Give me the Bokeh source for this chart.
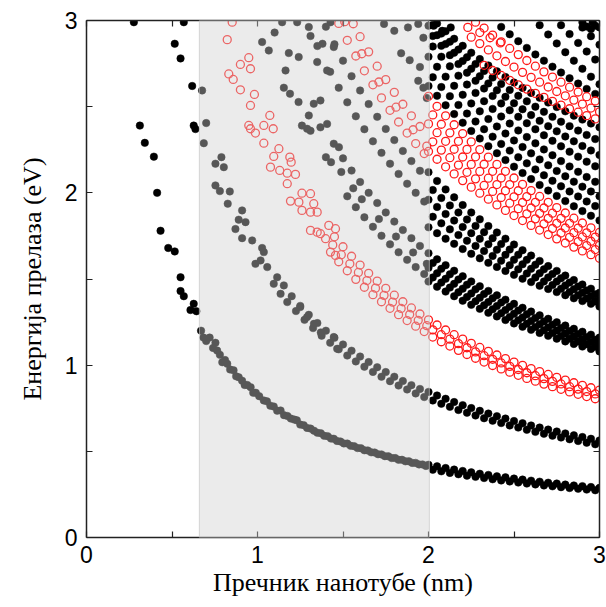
from bokeh.plotting import figure
from bokeh.models import Range1d, LinearAxis, FixedTicker, BoxAnnotation, ColumnDataSource
from bokeh.embed import file_html
from bokeh.resources import INLINE

# ---------------- data (diameter in nm, transition energy in eV) ----------------
x_ticks = [0, 1, 2, 3]
y_ticks = [0, 1, 2, 3]
half_ticks = [0.5, 1.5, 2.5]
x_title = "Пречник нанотубе (nm)"
y_title = "Енергија прелаза (eV)"
shade_left = 0.66
shade_right = 2.005

grid_a = [2.00, 2.05, 2.10, 2.15, 2.20, 2.25, 2.30, 2.35, 2.40, 2.45, 2.50,
          2.55, 2.60, 2.65, 2.70, 2.75, 2.80, 2.85, 2.90, 2.95, 3.00]
grid_b = [2.025, 2.075, 2.125, 2.175, 2.225, 2.275, 2.325, 2.375, 2.425, 2.475,
          2.525, 2.575, 2.625, 2.675, 2.725, 2.775, 2.825, 2.875, 2.925, 2.975]

# ---- S11 (semiconducting)
s11_left_x = [0.277, 0.312, 0.341, 0.394, 0.413, 0.433, 0.478, 0.516, 0.55, 0.55, 0.569, 0.608, 0.627, 0.643]
s11_left_y = [2.99, 2.39, 2.29, 2.21, 2.00, 1.78, 1.68, 1.66, 1.51, 1.43, 1.40, 1.32, 1.356, 1.313]
s11_a1_x = [0.670, 0.684, 0.700, 0.720, 0.740, 0.754, 0.764, 0.780, 0.794, 0.810, 0.823, 0.840, 0.860,
            0.875, 0.890, 0.910, 0.925, 0.940, 0.960, 0.975, 0.990]
s11_a1_y = [1.20, 1.16, 1.14, 1.16, 1.10, 1.13, 1.085, 1.06, 1.017, 1.03, 1.008, 0.975, 0.97,
            0.935, 0.93, 0.91, 0.885, 0.885, 0.872, 0.84, 0.84]
s11_a2_x = [1.010, 1.037, 1.055, 1.075, 1.095, 1.115, 1.135, 1.155, 1.175, 1.195, 1.215, 1.230,
            1.250, 1.270, 1.290, 1.310, 1.330, 1.350, 1.370, 1.390, 1.410, 1.430, 1.446]
s11_a2_y = [0.82, 0.795, 0.79, 0.765, 0.76, 0.736, 0.737, 0.71, 0.705, 0.69, 0.684, 0.68,
            0.655, 0.652, 0.636, 0.632, 0.62, 0.608, 0.605, 0.59, 0.588, 0.574, 0.573]
s11_a3_x = [1.465, 1.485, 1.505, 1.525, 1.545, 1.565, 1.585, 1.605, 1.625, 1.645, 1.665, 1.685, 1.705,
            1.725, 1.745, 1.765, 1.785, 1.805, 1.825, 1.845, 1.865, 1.885, 1.905, 1.925, 1.945, 1.965, 1.985]
s11_a3_y = [0.560, 0.557, 0.546, 0.545, 0.532, 0.530, 0.519, 0.518, 0.506, 0.505, 0.494, 0.493, 0.483,
            0.482, 0.472, 0.471, 0.461, 0.461, 0.451, 0.451, 0.442, 0.442, 0.433, 0.433, 0.424, 0.424, 0.415]
s11_ya = [0.422, 0.413, 0.403, 0.394, 0.386, 0.378, 0.370, 0.363, 0.355, 0.349, 0.342,
          0.336, 0.330, 0.324, 0.318, 0.313, 0.307, 0.302, 0.298, 0.293, 0.288]
s11_yb = [0.393, 0.384, 0.375, 0.367, 0.359, 0.352, 0.345, 0.338, 0.331, 0.325,
          0.319, 0.313, 0.308, 0.302, 0.297, 0.292, 0.287, 0.283, 0.278, 0.274]

# ---- S22 (semiconducting)
s22_left_x = [0.516, 0.569, 0.55, 0.618, 0.627, 0.637]
s22_left_y = [2.865, 2.99, 2.78, 2.62, 2.39, 2.37]
s22_a_x = [0.676, 0.686, 0.70, 0.754, 0.789, 0.803, 0.754, 0.78, 0.838, 0.826, 0.91, 0.89, 0.93, 0.871,
           0.91, 0.969, 1.027, 1.037, 0.988, 1.018, 1.057, 1.115, 1.095, 1.154, 1.135, 1.174, 1.25,
           1.29, 1.33, 1.37, 1.446, 1.466]
s22_a_y = [2.594, 2.288, 2.405, 2.169, 2.207, 2.149, 2.043, 2.01, 2.008, 1.937, 1.898, 1.844, 1.83, 1.79,
           1.737, 1.724, 1.68, 1.656, 1.588, 1.608, 1.569, 1.51, 1.472, 1.463, 1.414, 1.366, 1.337,
           1.279, 1.24, 1.19, 1.163, 1.095]
s22_u_x = [1.20, 1.25, 1.30, 1.35, 1.40, 1.45, 1.50, 1.55, 1.60, 1.65, 1.70, 1.75, 1.80, 1.85, 1.90, 1.95]
s22_u_y = [1.400, 1.344, 1.292, 1.244, 1.200, 1.159, 1.120, 1.084, 1.050, 1.018, 0.988, 0.960,
           0.933, 0.908, 0.884, 0.862]
s22_d_x = [1.225, 1.275, 1.325, 1.375, 1.425, 1.475, 1.525, 1.575, 1.625, 1.675, 1.725, 1.775,
           1.825, 1.875, 1.925, 1.975]
s22_d_y = [1.314, 1.263, 1.215, 1.171, 1.130, 1.092, 1.056, 1.022, 0.991, 0.961, 0.933, 0.907,
           0.882, 0.859, 0.836, 0.815]
s22_ya = [0.845, 0.824, 0.805, 0.786, 0.768, 0.751, 0.735, 0.719, 0.704, 0.690, 0.676,
          0.663, 0.650, 0.638, 0.626, 0.615, 0.604, 0.593, 0.583, 0.573, 0.563]
s22_yb = [0.795, 0.776, 0.758, 0.740, 0.724, 0.708, 0.692, 0.678, 0.664, 0.650,
          0.638, 0.625, 0.613, 0.602, 0.591, 0.580, 0.570, 0.560, 0.550, 0.541]

# ---- M11 (metallic)
m11_a_x = [0.852, 0.823, 0.949, 0.90, 0.959, 0.832, 0.858, 0.90, 0.982, 0.959, 1.072, 0.949, 0.959, 1.037,
           1.092, 0.988, 1.037, 1.125, 1.095, 1.189, 1.197, 1.076, 1.13, 1.174, 1.222, 1.174, 1.26, 1.31,
           1.193, 1.242, 1.329, 1.26, 1.31, 1.349, 1.31, 1.349, 1.368, 1.398, 1.417, 1.456, 1.427, 1.456]
m11_a_y = [2.99, 2.889, 2.784, 2.745, 2.72, 2.69, 2.658, 2.598, 2.571, 2.507, 2.449, 2.391, 2.372, 2.391,
           2.372, 2.347, 2.288, 2.256, 2.211, 2.207, 2.178, 2.149, 2.13, 2.114, 2.107, 2.053, 1.998, 1.995,
           1.952, 1.946, 1.937, 1.898, 1.888, 1.888, 1.782, 1.772, 1.763, 1.734, 1.811, 1.792, 1.656, 1.637]
m11_u_x = [1.45, 1.50, 1.55, 1.60, 1.65, 1.70, 1.75, 1.80, 1.85, 1.90, 1.95]
m11_u_y = [1.745, 1.687, 1.632, 1.581, 1.533, 1.488, 1.446, 1.406, 1.368, 1.332, 1.297]
m11_d_x = [1.475, 1.525, 1.575, 1.625, 1.675, 1.725, 1.775, 1.825, 1.875, 1.925, 1.975]
m11_d_y = [1.600, 1.548, 1.498, 1.452, 1.409, 1.368, 1.330, 1.293, 1.259, 1.226, 1.195]
m11_m_x = [1.44, 1.49, 1.54, 1.59, 1.64, 1.69, 1.74, 1.79, 1.84, 1.89, 1.94, 1.99]
m11_m_y = [1.698, 1.641, 1.588, 1.538, 1.491, 1.447, 1.405, 1.366, 1.329, 1.294, 1.260, 1.229]
m11_ya = [1.263, 1.233, 1.204, 1.177, 1.151, 1.127, 1.103, 1.080, 1.059, 1.038, 1.018,
          0.999, 0.980, 0.963, 0.946, 0.929, 0.913, 0.898, 0.883, 0.869, 0.855]
m11_yb = [1.163, 1.136, 1.111, 1.086, 1.062, 1.040, 1.018, 0.998, 0.978, 0.959,
          0.941, 0.923, 0.907, 0.890, 0.875, 0.860, 0.845, 0.831, 0.818, 0.805]
m11_yc = [1.205, 1.177, 1.151, 1.125, 1.101, 1.077, 1.055, 1.034, 1.013, 0.993,
          0.975, 0.956, 0.939, 0.922, 0.906, 0.891, 0.875, 0.861, 0.847, 0.833]

# ---- S33 (semiconducting)
s33_a_x = [1.027, 1.066, 1.10, 1.144, 1.183, 1.241, 1.164, 1.154, 1.19, 1.24, 1.329, 1.368, 1.26, 1.31,
           1.368, 1.407, 1.40, 1.43, 1.446, 1.476, 1.30, 1.29]
s33_a_y = [2.875, 2.826, 2.93, 2.99, 2.811, 2.788, 2.71, 2.61, 2.575, 2.527, 2.517, 2.536, 2.39, 2.36,
           2.38, 2.40, 2.207, 2.178, 2.285, 2.265, 2.449, 2.372]
s33_u_x = [1.50, 1.55, 1.60, 1.65, 1.70, 1.75, 1.80, 1.85, 1.90, 1.95]
s33_u_y = [2.200, 2.129, 2.063, 2.000, 1.941, 1.886, 1.833, 1.784, 1.737, 1.692]
s33_d_x = [1.525, 1.575, 1.625, 1.675, 1.725, 1.775, 1.825, 1.875, 1.925, 1.975]
s33_d_y = [1.980, 1.917, 1.858, 1.803, 1.751, 1.701, 1.655, 1.611, 1.569, 1.529]
s33_m_x = [1.49, 1.56, 1.61, 1.71, 1.81, 1.91, 1.99]
s33_m_y = [2.121, 2.026, 1.963, 1.848, 1.746, 1.654, 1.588]
s33_r1 = [1.650, 1.614, 1.580, 1.548, 1.516, 1.486, 1.458, 1.431, 1.405, 1.380, 1.356,
          1.333, 1.311, 1.289, 1.269, 1.249, 1.230, 1.211, 1.194, 1.177, 1.160]
s33_r2 = [1.593, 1.559, 1.527, 1.497, 1.467, 1.440, 1.413, 1.388, 1.363, 1.339,
          1.317, 1.295, 1.274, 1.254, 1.235, 1.216, 1.198, 1.181, 1.164, 1.148]
s33_r3 = [1.565, 1.533, 1.501, 1.472, 1.444, 1.416, 1.391, 1.366, 1.343, 1.320, 1.298,
          1.277, 1.257, 1.237, 1.219, 1.201, 1.184, 1.167, 1.151, 1.135, 1.120]
s33_r4 = [1.509, 1.479, 1.450, 1.423, 1.396, 1.371, 1.347, 1.324, 1.301, 1.280,
          1.260, 1.240, 1.222, 1.203, 1.186, 1.169, 1.153, 1.137, 1.122, 1.107]
s33_r5 = [1.485, 1.455, 1.427, 1.400, 1.374, 1.350, 1.327, 1.304, 1.283, 1.262, 1.242,
          1.223, 1.205, 1.187, 1.170, 1.154, 1.138, 1.123, 1.108, 1.094, 1.080]

# ---- S44 (semiconducting)
s44_a_x = [1.232, 1.31, 1.38, 1.446, 1.349, 1.407, 1.427]
s44_a_y = [2.99, 2.91, 2.865, 2.846, 2.759, 2.71, 2.99]
s44_u_x = [1.40, 1.45, 1.50, 1.55, 1.60, 1.65, 1.70, 1.75, 1.80, 1.85, 1.90, 1.95]
s44_u_y = [2.964, 2.862, 2.767, 2.677, 2.594, 2.515, 2.441, 2.371, 2.306, 2.243, 2.184, 2.128]
s44_d_x = [1.30, 1.35, 1.425, 1.475, 1.525, 1.575, 1.625, 1.675, 1.725, 1.775, 1.825, 1.875, 1.925, 1.975]
s44_d_y = [2.962, 2.852, 2.702, 2.610, 2.525, 2.444, 2.369, 2.299, 2.232, 2.169, 2.110, 2.053, 2.0, 1.949]
s44_r1 = [2.120, 2.069, 2.020, 1.974, 1.929, 1.886, 1.846, 1.807, 1.770, 1.734, 1.700,
          1.667, 1.636, 1.605, 1.575, 1.547, 1.520, 1.494, 1.468, 1.444, 1.420]
s44_r2 = [2.016, 1.970, 1.927, 1.886, 1.845, 1.808, 1.772, 1.737, 1.703, 1.671,
          1.641, 1.611, 1.583, 1.556, 1.529, 1.504, 1.479, 1.456, 1.433, 1.411]
s44_r3 = [1.960, 1.918, 1.877, 1.839, 1.802, 1.766, 1.733, 1.701, 1.670, 1.640, 1.612,
          1.585, 1.559, 1.533, 1.509, 1.486, 1.463, 1.441, 1.420, 1.400, 1.380]
s44_r4 = [1.861, 1.823, 1.788, 1.755, 1.722, 1.692, 1.662, 1.634, 1.606, 1.580,
          1.556, 1.532, 1.509, 1.486, 1.465, 1.444, 1.424, 1.405, 1.387, 1.369]
s44_r5 = [1.800, 1.766, 1.734, 1.704, 1.674, 1.646, 1.620, 1.594, 1.570, 1.547, 1.524,
          1.502, 1.482, 1.461, 1.442, 1.424, 1.406, 1.388, 1.372, 1.356, 1.340]

# ---- M22 (metallic)
m22_u_x = [1.56, 1.60, 1.65, 1.70, 1.75, 1.80, 1.85, 1.90, 1.95]
m22_u_y = [2.981, 2.906, 2.818, 2.735, 2.657, 2.583, 2.514, 2.447, 2.385]
m22_d_x = [1.475, 1.525, 1.575, 1.625, 1.675, 1.725, 1.775, 1.825, 1.875, 1.925, 1.975]
m22_d_y = [2.983, 2.885, 2.794, 2.708, 2.627, 2.551, 2.479, 2.411, 2.347, 2.286, 2.228]
m22_m_x = [1.51, 1.61, 1.71, 1.81, 1.91, 1.99]
m22_m_y = [2.993, 2.807, 2.643, 2.497, 2.366, 2.271]
m22_r1 = [2.560, 2.502, 2.447, 2.395, 2.344, 2.296, 2.251, 2.207, 2.165, 2.125, 2.086,
          2.049, 2.013, 1.979, 1.945, 1.914, 1.883, 1.853, 1.825, 1.797, 1.770]
m22_r2 = [2.452, 2.398, 2.348, 2.299, 2.252, 2.209, 2.166, 2.125, 2.086, 2.048,
          2.012, 1.978, 1.945, 1.912, 1.882, 1.852, 1.823, 1.795, 1.768, 1.743]
m22_r3 = [2.400, 2.349, 2.299, 2.253, 2.208, 2.165, 2.124, 2.085, 2.048, 2.012, 1.977,
          1.944, 1.912, 1.881, 1.852, 1.823, 1.796, 1.769, 1.744, 1.719, 1.695]
m22_r4 = [2.296, 2.248, 2.204, 2.161, 2.119, 2.081, 2.043, 2.008, 1.973, 1.940,
          1.908, 1.878, 1.849, 1.820, 1.793, 1.767, 1.742, 1.717, 1.694, 1.671]
m22_r5 = [2.240, 2.195, 2.151, 2.110, 2.071, 2.033, 1.998, 1.963, 1.930, 1.898, 1.868,
          1.839, 1.811, 1.784, 1.758, 1.733, 1.709, 1.685, 1.663, 1.641, 1.620]

# ---- S55 (semiconducting)
s55_a_x = [1.74, 1.80, 1.88, 1.94, 1.97, 1.84, 1.89, 1.95, 1.94, 1.97, 1.99]
s55_a_y = [2.98, 2.94, 2.96, 2.98, 2.90, 2.81, 2.77, 2.73, 2.65, 2.61, 2.55]
s55_r1 = [2.849, 2.790, 2.734, 2.680, 2.628, 2.580, 2.532, 2.487, 2.443, 2.402,
          2.362, 2.324, 2.287, 2.252, 2.218, 2.184, 2.153, 2.122, 2.092, 2.064]
s55_r2 = [2.790, 2.731, 2.674, 2.621, 2.569, 2.519, 2.473, 2.428, 2.385, 2.344, 2.304,
          2.266, 2.229, 2.194, 2.160, 2.127, 2.096, 2.065, 2.036, 2.008, 1.980]
s55_r3 = [2.671, 2.614, 2.561, 2.510, 2.460, 2.414, 2.369, 2.326, 2.284, 2.245,
          2.207, 2.171, 2.136, 2.102, 2.070, 2.038, 2.008, 1.979, 1.950, 1.923]
s55_r4 = [2.620, 2.563, 2.508, 2.457, 2.407, 2.359, 2.315, 2.271, 2.230, 2.190, 2.152,
          2.115, 2.080, 2.046, 2.013, 1.982, 1.952, 1.922, 1.894, 1.867, 1.840]

# ---- S66 (semiconducting)
s66_r_x = [2.03, 2.08, 2.13]
s66_r_y = [2.97, 2.94, 2.96]
s66_r1 = [2.983, 2.937, 2.894, 2.853, 2.813, 2.776, 2.739, 2.705, 2.672, 2.640,
          2.609, 2.580, 2.552, 2.524, 2.498, 2.473, 2.448, 2.425, 2.402, 2.380]
s66_r2 = [2.974, 2.924, 2.877, 2.831, 2.787, 2.747, 2.707, 2.669, 2.632, 2.597,
          2.563, 2.531, 2.500, 2.470, 2.441, 2.413, 2.387, 2.361, 2.336, 2.312]
s66_r3 = [2.970, 2.915, 2.863, 2.813, 2.765, 2.720, 2.677, 2.635, 2.595, 2.557, 2.520,
          2.485, 2.451, 2.418, 2.387, 2.357, 2.327, 2.299, 2.272, 2.246, 2.220]
s66_r4 = [2.910, 2.853, 2.799, 2.747, 2.697, 2.650, 2.605, 2.562, 2.519, 2.479,
          2.441, 2.404, 2.369, 2.334, 2.302, 2.270, 2.239, 2.210, 2.181, 2.154]

# ---- M33 (metallic)
m33_r_x = [2.23, 2.30, 2.36, 2.42]
m33_r_y = [2.96, 2.93, 2.90, 2.87]
m33_r1 = [2.990, 2.956, 2.915, 2.876, 2.838, 2.802, 2.768, 2.735, 2.702, 2.672,
          2.642, 2.613, 2.585, 2.558, 2.533]
m33_r2 = [2.903, 2.866, 2.829, 2.795, 2.762, 2.730, 2.699, 2.670, 2.642, 2.614,
          2.588, 2.563, 2.538, 2.515, 2.492, 2.470]
m33_r3 = [2.740, 2.710, 2.681, 2.653, 2.627, 2.602, 2.577, 2.554, 2.531, 2.509,
          2.488, 2.468, 2.448, 2.429]

# ---- S77, S88 (semiconducting)
s77_r1_x = [2.90, 2.95, 3.00]
s77_r1_y = [2.959, 2.909, 2.860]
s77_r2_x = [2.775, 2.825, 2.875, 2.925, 2.975]
s77_r2_y = [2.973, 2.921, 2.870, 2.820, 2.773]
s77_r3_x = [2.65, 2.70, 2.75, 2.80, 2.85, 2.90, 2.95, 3.00]
s77_r3_y = [2.973, 2.919, 2.867, 2.816, 2.767, 2.720, 2.674, 2.630]
s77_r4 = [2.963, 2.920, 2.880, 2.841, 2.803, 2.767, 2.732, 2.698, 2.665, 2.634, 2.603, 2.574]
s88_x = [2.90, 2.925, 2.95, 2.975, 3.0, 2.96]
s88_y = [2.99, 2.965, 2.95, 2.97, 2.96, 2.99]


def join(*parts):
    xs, ys = [], []
    for i, (x, y) in enumerate(parts):
        if len(x) != len(y):
            raise ValueError("length mismatch in part %d: %d vs %d" % (i, len(x), len(y)))
        xs += list(x)
        ys += list(y)
    return xs, ys


semi_x, semi_y = join(
    (s11_left_x, s11_left_y), (s11_a1_x, s11_a1_y), (s11_a2_x, s11_a2_y), (s11_a3_x, s11_a3_y),
    (grid_a, s11_ya), (grid_b, s11_yb),
    (s22_left_x, s22_left_y), (s22_a_x, s22_a_y), (s22_u_x, s22_u_y), (s22_d_x, s22_d_y),
    (grid_a, s22_ya), (grid_b, s22_yb),
    (s33_a_x, s33_a_y), (s33_u_x, s33_u_y), (s33_d_x, s33_d_y), (s33_m_x, s33_m_y),
    (grid_a, s33_r1), (grid_b, s33_r2), (grid_a, s33_r3), (grid_b, s33_r4), (grid_a, s33_r5),
    (s44_a_x, s44_a_y), (s44_u_x, s44_u_y), (s44_d_x, s44_d_y),
    (grid_a, s44_r1), (grid_b, s44_r2), (grid_a, s44_r3), (grid_b, s44_r4), (grid_a, s44_r5),
    (s55_a_x, s55_a_y),
    (grid_b, s55_r1), (grid_a, s55_r2), (grid_b, s55_r3), (grid_a, s55_r4),
    (s66_r_x, s66_r_y),
    (grid_a[1:], s66_r1), (grid_b, s66_r2), (grid_a, s66_r3), (grid_b, s66_r4),
    (s77_r1_x, s77_r1_y), (s77_r2_x, s77_r2_y), (s77_r3_x, s77_r3_y), (grid_b[8:], s77_r4),
    (s88_x, s88_y),
)
metal_x, metal_y = join(
    (m11_a_x, m11_a_y), (m11_u_x, m11_u_y), (m11_d_x, m11_d_y), (m11_m_x, m11_m_y),
    (grid_a, m11_ya), (grid_b, m11_yb), (grid_b, m11_yc),
    (m22_u_x, m22_u_y), (m22_d_x, m22_d_y), (m22_m_x, m22_m_y),
    (grid_a, m22_r1), (grid_b, m22_r2), (grid_a, m22_r3), (grid_b, m22_r4), (grid_a, m22_r5),
    (m33_r_x, m33_r_y), (grid_b[5:], m33_r1), (grid_a[5:], m33_r2), (grid_b[6:], m33_r3),
)

# ---------------- figure ----------------
p = figure(width=606, height=607, x_range=Range1d(0, 3), y_range=Range1d(0, 3),
           output_backend="svg", toolbar_location=None,
           min_border_left=86, min_border_right=7, min_border_top=20, min_border_bottom=70,
           x_axis_label=x_title, y_axis_label=y_title)
p.grid.visible = False
p.outline_line_color = None
p.background_fill_color = "white"
p.border_fill_color = "white"

bottom_axis = p.below[0]
left_axis = p.left[0]

semi_src = ColumnDataSource(dict(x=semi_x, y=semi_y))
metal_src = ColumnDataSource(dict(x=metal_x, y=metal_y))
p.scatter("x", "y", source=semi_src, size=7.5, marker="circle",
          fill_color="black", line_color="black", line_width=0.5)
p.scatter("x", "y", source=metal_src, size=8, marker="circle",
          fill_color=None, line_color="#ff1a1a", line_width=1.3)

shade = BoxAnnotation(left=shade_left, right=shade_right, fill_color="#cfcfcf", fill_alpha=0.42,
                      line_color="#c8c8c8", line_alpha=0.7, line_width=1, level="overlay")
p.add_layout(shade)

xt = FixedTicker(ticks=x_ticks, minor_ticks=half_ticks)
yt = FixedTicker(ticks=y_ticks, minor_ticks=half_ticks)
bottom_axis.ticker = xt
left_axis.ticker = yt
top_axis = LinearAxis(ticker=xt)
right_axis = LinearAxis(ticker=yt)
p.add_layout(top_axis, "above")
p.add_layout(right_axis, "right")

for ax in [bottom_axis, left_axis, top_axis, right_axis]:
    ax.major_tick_in = 6
    ax.major_tick_out = 0
    ax.minor_tick_in = 6
    ax.minor_tick_out = 0
    ax.axis_line_color = "#222222"
    ax.axis_line_width = 1.5
    ax.major_tick_line_color = "#222222"
    ax.minor_tick_line_color = "#222222"
    ax.major_tick_line_width = 1.2
    ax.minor_tick_line_width = 1.2
    ax.major_label_text_font = "Liberation Sans"
    ax.major_label_text_font_size = "23px"
    ax.major_label_text_color = "black"
    ax.axis_label_text_font = "Liberation Serif"
    ax.axis_label_text_font_size = "26px"
    ax.axis_label_text_font_style = "normal"
    ax.axis_label_text_color = "black"

bottom_axis.major_label_standoff = 8
left_axis.major_label_standoff = 9
bottom_axis.axis_label_standoff = 2
left_axis.axis_label_standoff = 15

for ax in [top_axis, right_axis]:
    ax.major_label_text_font_size = "1px"
    ax.major_label_text_alpha = 0
    ax.major_label_standoff = 0

open("out.html", "w").write(file_html(p, INLINE))
